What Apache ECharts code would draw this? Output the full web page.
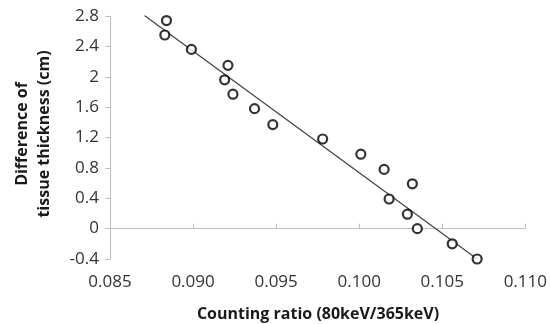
<!DOCTYPE html>
<html>
<head>
<meta charset="utf-8">
<script src="https://cdn.jsdelivr.net/npm/echarts@6/dist/echarts.min.js"></script>
<style>
  html, body { margin: 0; padding: 0; background: #fff; }
  #chart { width: 550px; height: 324px; }
</style>
</head>
<body>
<div id="chart"></div>
<script>
// counting ratio vs difference of tissue thickness
const ratio = [0.0884, 0.0883, 0.0899, 0.0921, 0.0919, 0.0924, 0.0937, 0.0948, 0.0978, 0.1001, 0.1015, 0.1032, 0.1018, 0.1029, 0.1035, 0.1056, 0.1071];
const thickness = [2.74, 2.55, 2.36, 2.15, 1.96, 1.77, 1.58, 1.37, 1.18, 0.98, 0.78, 0.59, 0.39, 0.19, 0.0, -0.2, -0.4];

// linear fit, drawn between its two ends
const fitRatio = [0.08705, 0.1071];
const fitThickness = [2.81, -0.40];

const xTicks = { min: 0.085, max: 0.110, step: 0.005 };
const yTicks = { min: -0.4, max: 2.8, step: 0.4 };

const axisGray = '#bfbfbf';
const labelColor = '#333333';
const font = '"Open Sans", "DejaVu Sans", sans-serif';

const chart = echarts.init(document.getElementById('chart'), null, { renderer: 'canvas' });
chart.setOption({
  backgroundColor: '#ffffff',
  animation: false,
  grid: { left: 110, right: 23, top: 16, bottom: 65 },
  xAxis: {
    type: 'value',
    min: xTicks.min,
    max: xTicks.max,
    interval: xTicks.step,
    axisLine: { show: true, lineStyle: { color: axisGray, width: 1 } },
    axisTick: { show: true, inside: true, length: 5, lineStyle: { color: axisGray } },
    splitLine: { show: false },
    axisLabel: {
      color: labelColor, fontFamily: font, fontSize: 17, margin: 15,
      formatter: (v) => v.toFixed(3)
    }
  },
  yAxis: {
    type: 'value',
    min: yTicks.min,
    max: yTicks.max,
    interval: yTicks.step,
    axisLine: { show: true, lineStyle: { color: axisGray, width: 1 } },
    axisTick: { show: true, inside: false, length: 5, lineStyle: { color: axisGray } },
    splitLine: { show: false },
    axisLabel: {
      color: labelColor, fontFamily: font, fontSize: 17, margin: 11,
      formatter: (v) => String(Math.round(v * 10) / 10)
    }
  },
  graphic: [
    {
      type: 'text', x: 318, y: 314,
      style: {
        text: 'Counting ratio (80keV/365keV)', fill: '#1a1a1a',
        font: 'bold 16px ' + font, align: 'center', verticalAlign: 'middle'
      }
    },
    {
      type: 'text', x: 33, y: 134, rotation: Math.PI / 2,
      style: {
        text: 'Difference of\ntissue thickness (cm)', fill: '#1a1a1a',
        font: 'bold 16px ' + font, align: 'center', verticalAlign: 'middle', lineHeight: 22
      }
    }
  ],
  series: [
    {
      type: 'line',
      data: fitRatio.map((x, i) => [x, fitThickness[i]]),
      showSymbol: false,
      lineStyle: { color: '#404040', width: 1.2 },
      z: 1
    },
    {
      type: 'scatter',
      data: ratio.map((x, i) => [x, thickness[i]]),
      symbol: 'circle',
      symbolSize: 9,
      itemStyle: { color: '#ffffff', borderColor: '#000000', borderWidth: 2.2 },
      z: 2
    }
  ]
});
</script>
</body>
</html>
